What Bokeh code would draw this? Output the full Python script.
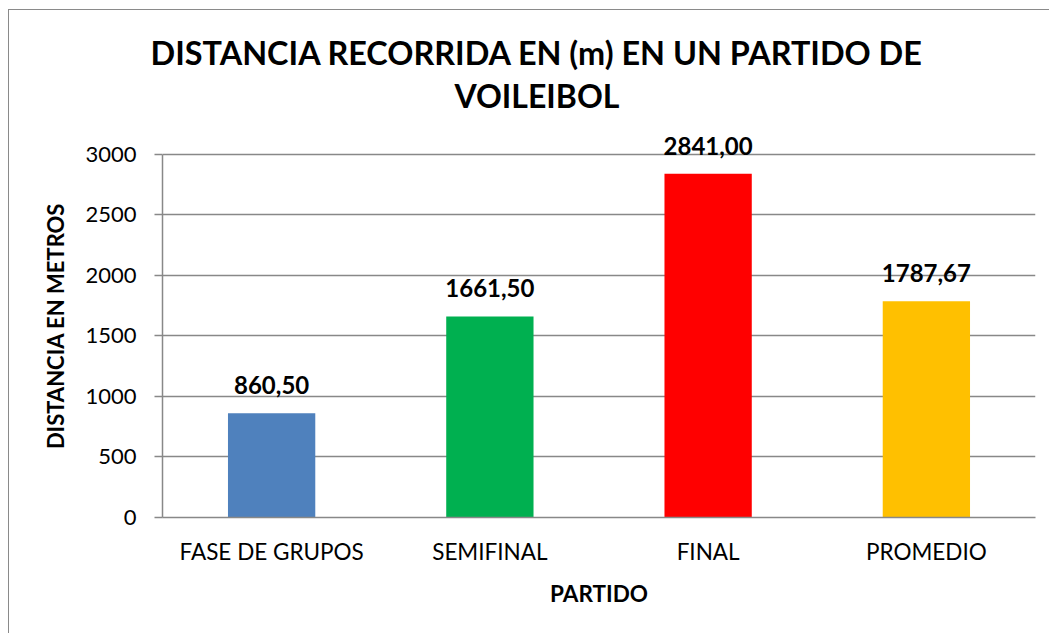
from bokeh.plotting import figure
from bokeh.models import ColumnDataSource, LabelSet, FixedTicker, Title
from bokeh.core.properties import value
from bokeh.embed import file_html
from bokeh.resources import INLINE

categories = ["FASE DE GRUPOS", "SEMIFINAL", "FINAL", "PROMEDIO"]
values = [860.50, 1661.50, 2841.00, 1787.67]
colors = ["#4F81BD", "#00B050", "#FF0000", "#FFC000"]
value_labels = ["860,50", "1661,50", "2841,00", "1787,67"]
y_ticks = [0, 500, 1000, 1500, 2000, 2500, 3000]
title_lines = ["DISTANCIA RECORRIDA EN (m) EN UN PARTIDO DE", "VOILEIBOL"]
x_title = "PARTIDO"
y_title = "DISTANCIA EN METROS"

FONT = "Lato"
GRID = "#888888"
W, H = 1041, 624

src = ColumnDataSource(dict(cat=categories, val=values, col=colors, lab=value_labels))

p = figure(x_range=categories, y_range=(0, 3165), width=W, height=H,
           output_backend="svg", toolbar_location=None,
           min_border_left=153, min_border_right=15, min_border_top=124, min_border_bottom=117)
p.outline_line_color = None
p.background_fill_color = "white"
p.border_fill_color = "white"
p.styles = {"margin-left": "8px", "margin-top": "9px",
            "border-left": "1px solid #8a8a8a", "border-top": "1px solid #8a8a8a"}

p.vbar(x="cat", top="val", width=0.4, fill_color="col", line_color=None, source=src)

p.add_layout(LabelSet(x="cat", y="val", text="lab", source=src, y_offset=19,
                      text_align="center", text_baseline="alphabetic",
                      text_font=value(FONT), text_font_style="bold",
                      text_font_size="24px", text_color="black"))

# axes
p.yaxis.ticker = FixedTicker(ticks=y_ticks)
p.yaxis.bounds = (0, 3000)
p.yaxis.axis_line_color = GRID
p.yaxis.axis_line_width = 1.5
p.yaxis.major_tick_line_color = GRID
p.yaxis.major_tick_line_width = 1.5
p.yaxis.major_tick_out = 8
p.yaxis.major_tick_in = 0
p.yaxis.minor_tick_line_color = None
p.yaxis.major_label_standoff = 18
p.yaxis.major_label_text_font = FONT
p.yaxis.major_label_text_font_size = "22px"
p.yaxis.major_label_text_color = "black"
p.yaxis.axis_label = y_title
p.yaxis.axis_label_text_font = FONT
p.yaxis.axis_label_text_font_style = "bold"
p.yaxis.axis_label_text_font_size = "22px"
p.yaxis.axis_label_text_color = "black"
p.yaxis.axis_label_standoff = 13

p.xaxis.axis_line_color = GRID
p.xaxis.axis_line_width = 1.5
p.xaxis.major_tick_line_color = None
p.xaxis.minor_tick_line_color = None
p.xaxis.major_label_standoff = 14
p.xaxis.major_label_text_font = FONT
p.xaxis.major_label_text_font_size = "22.5px"
p.xaxis.major_label_text_color = "black"
p.xaxis.axis_label = x_title
p.xaxis.axis_label_text_font = FONT
p.xaxis.axis_label_text_font_style = "bold"
p.xaxis.axis_label_text_font_size = "22.5px"
p.xaxis.axis_label_text_color = "black"
p.xaxis.axis_label_standoff = 12

p.xgrid.grid_line_color = None
p.ygrid.grid_line_color = GRID
p.ygrid.grid_line_width = 1.5
p.ygrid.ticker = FixedTicker(ticks=y_ticks)

# two-line title (later-added titles sit further from the frame)
p.add_layout(Title(text=title_lines[1], align="left", offset=292, standoff=40,
                   text_font=FONT, text_font_style="bold", text_font_size="32px",
                   text_color="black"), "above")
p.add_layout(Title(text=title_lines[0], align="left", offset=-12, standoff=-36,
                   text_font=FONT, text_font_style="bold", text_font_size="32.4px",
                   text_color="black"), "above")

open("out.html", "w").write(file_html(p, INLINE))
